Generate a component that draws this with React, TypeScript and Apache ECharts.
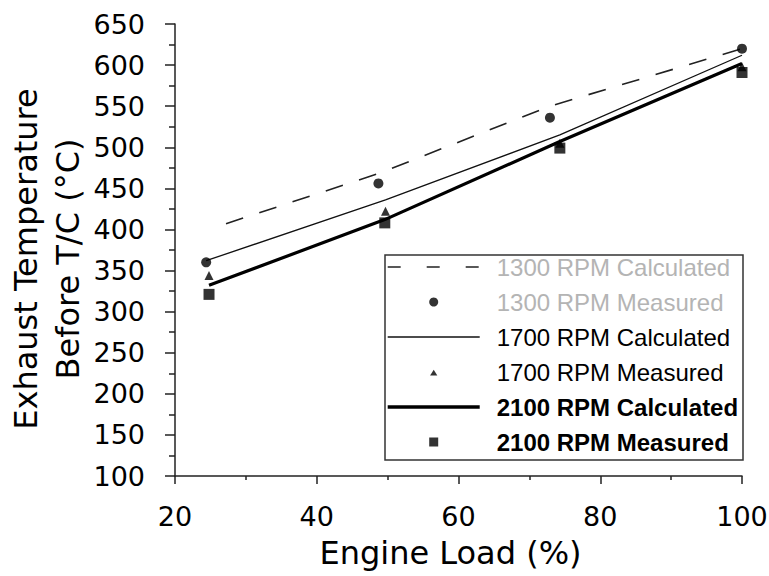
import React, { useEffect, useRef } from "react";
import * as echarts from "echarts";

const seriesNames = [
  "1300 RPM Calculated",
  "1300 RPM Measured",
  "1700 RPM Calculated",
  "1700 RPM Measured",
  "2100 RPM Calculated",
  "2100 RPM Measured",
];

const calc1300: [number, number][] = [[27.2, 407], [48.7, 468], [72.9, 550], [100, 620]];
const meas1300: [number, number][] = [[24.4, 360], [48.7, 456], [72.9, 536], [100, 620]];
const calc1700: [number, number][] = [[24.4, 362], [49.7, 436], [74.3, 515], [100, 612]];
const meas1700: [number, number][] = [[24.8, 344], [49.7, 422], [74.3, 505], [100, 598]];
const calc2100: [number, number][] = [[24.8, 332], [49.6, 412], [74.3, 507], [100, 602]];
const meas2100: [number, number][] = [[24.8, 321], [49.6, 408], [74.3, 499], [100, 591]];

const xAxisTitle = "Engine Load (%)";
const yAxisTitle = "Exhaust Temperature\nBefore T/C (°C)";

export default function App() {
  const ref = useRef<HTMLDivElement>(null);
  useEffect(() => {
    if (!ref.current) return;
    const chart = echarts.init(ref.current, undefined, { renderer: "svg" });
    const axisLineStyle = { color: "#222", width: 1.5 };
    const tickFont = { fontSize: 27, fontFamily: "DejaVu Sans", color: "#000" };
    const hidden = { color: "rgba(0,0,0,0)", opacity: 0, borderWidth: 0 };
    chart.setOption({
      animation: false,
      backgroundColor: "#fff",
      grid: {
        left: 175,
        right: 27,
        top: 24,
        bottom: 100,
        containLabel: false,
        outerBoundsMode: "none",
      },
      xAxis: {
        type: "value",
        min: 20,
        max: 100,
        interval: 20,
        axisLine: { show: true, lineStyle: axisLineStyle },
        axisTick: { show: true, length: 8, lineStyle: axisLineStyle },
        minorTick: { show: true, splitNumber: 2, length: 4, lineStyle: axisLineStyle },
        splitLine: { show: false },
        axisLabel: { ...tickFont, margin: 27 },
        name: xAxisTitle,
        nameLocation: "middle",
        nameGap: 61,
        nameMoveOverlap: false,
        nameTextStyle: {
          fontSize: 32,
          fontFamily: "DejaVu Sans",
          color: "#000",
          padding: [0, 16, 0, 0],
        },
      },
      yAxis: {
        type: "value",
        min: 100,
        max: 650,
        interval: 50,
        axisLine: { show: true, lineStyle: axisLineStyle },
        axisTick: { show: true, length: 10, lineStyle: axisLineStyle },
        minorTick: { show: true, splitNumber: 2, length: 6, lineStyle: axisLineStyle },
        splitLine: { show: false },
        axisLabel: { ...tickFont, margin: 30 },
        name: yAxisTitle,
        nameLocation: "middle",
        nameRotate: 90,
        nameGap: 86,
        nameMoveOverlap: false,
        nameTextStyle: {
          fontSize: 32,
          lineHeight: 42,
          fontFamily: "DejaVu Sans",
          color: "#000",
          padding: [0, 18, 0, 0],
        },
      },
      legend: {
        orient: "vertical",
        left: 386,
        top: 255,
        padding: 0,
        itemGap: 11,
        itemWidth: 92,
        itemHeight: 9,
        symbolKeepAspect: true,
        z: 10,
        textStyle: {
          fontFamily: "Liberation Sans",
          fontSize: 24,
          lineHeight: 24,
          color: "#000",
          padding: [0, 0, 0, 12],
        },
        data: [
          {
            name: seriesNames[0],
            textStyle: { color: "#b4b4b4" },
            itemStyle: hidden,
            lineStyle: { color: "#222", width: 1.6, type: [13, 26] },
          },
          { name: seriesNames[1], icon: "circle", textStyle: { color: "#b4b4b4" } },
          {
            name: seriesNames[2],
            itemStyle: hidden,
            lineStyle: { color: "#111", width: 1.3, type: "solid" },
          },
          { name: seriesNames[3], icon: "path://M0,0 M10,10 M5,2.5 L9,9 L1,9 Z" },
          {
            name: seriesNames[4],
            textStyle: { fontWeight: "bold" },
            itemStyle: hidden,
            lineStyle: { color: "#000", width: 3.4, type: "solid" },
          },
          {
            name: seriesNames[5],
            icon: "path://M0,0 L10,0 L10,10 L0,10 Z",
            textStyle: { fontWeight: "bold" },
          },
        ],
      },
      graphic: [
        {
          type: "rect",
          z: 5,
          shape: { x: 385, y: 255, width: 358, height: 205 },
          style: { fill: "#fff", stroke: "#333", lineWidth: 1.5 },
        },
      ],
      series: [
        {
          name: seriesNames[0],
          type: "line",
          data: calc1300,
          symbol: "none",
          lineStyle: { color: "#222", width: 1.6, type: [18, 17] },
          itemStyle: { color: "#222" },
          z: 2,
        },
        {
          name: seriesNames[1],
          type: "scatter",
          data: meas1300,
          symbol: "circle",
          symbolSize: 10,
          itemStyle: { color: "#000" },
          z: 3,
        },
        {
          name: seriesNames[2],
          type: "line",
          data: calc1700,
          symbol: "none",
          lineStyle: { color: "#111", width: 1.3 },
          itemStyle: { color: "#111" },
          z: 2,
        },
        {
          name: seriesNames[3],
          type: "scatter",
          data: meas1700,
          symbol: "triangle",
          symbolSize: 9,
          itemStyle: { color: "#000" },
          z: 3,
        },
        {
          name: seriesNames[4],
          type: "line",
          data: calc2100,
          symbol: "none",
          lineStyle: { color: "#000", width: 3.2 },
          itemStyle: { color: "#000" },
          z: 2,
        },
        {
          name: seriesNames[5],
          type: "scatter",
          data: meas2100,
          symbol: "rect",
          symbolSize: 11,
          itemStyle: { color: "#000" },
          z: 3,
        },
      ],
    });
    return () => chart.dispose();
  }, []);
  return (
    <div
      ref={ref}
      style={{ position: "fixed", left: 0, top: 0, width: 769, height: 576, background: "#fff" }}
    />
  );
}
